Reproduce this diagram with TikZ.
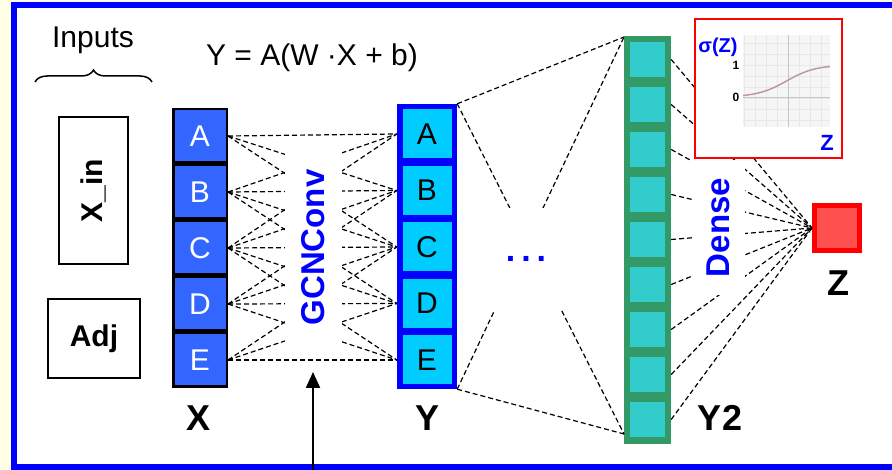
\documentclass[tikz,border=0pt]{standalone}
\usepackage{fontspec}
\setmainfont{Liberation Sans}
\usetikzlibrary{arrows.meta,decorations.pathreplacing}

\definecolor{xblue}{HTML}{3366FF}
\definecolor{ycyan}{HTML}{00CCFF}
\definecolor{pureblue}{HTML}{0000FF}
\definecolor{dgreen}{HTML}{339966}
\definecolor{cellteal}{HTML}{33CCCC}
\definecolor{zred}{HTML}{FF5050}
\definecolor{paper}{HTML}{FFFFE6}
\definecolor{sigcurve}{HTML}{C09A9A}

\newcommand{\fsz}[1]{\fontsize{#1}{#1}\selectfont}

\tikzset{
	link/.style={black, line width=1.2pt, dash pattern=on 5pt off 3pt},
	xcell/.style={draw=black, line width=2.5pt, fill=xblue, text=white, minimum size=53.5pt, inner sep=0pt, font=\fsz{30}},
	ycell/.style={fill=ycyan, minimum size=49pt, inner sep=0pt, font=\fsz{30}},
	ycol/.style={fill=pureblue, minimum width=60pt, minimum height=285pt, inner sep=0pt},
	gcell/.style={fill=cellteal, minimum size=35pt, inner sep=0pt},
	gcol/.style={fill=dgreen, minimum width=47pt, minimum height=408pt, inner sep=0pt},
	blank/.style={fill=white, inner sep=0pt},
	tag/.style={font=\bfseries\fsz{36}},
	inbox/.style={draw=black, line width=2.5pt, inner sep=0pt, font=\bfseries\fsz{30}},
	gridline/.style={gray!18, line width=0.6pt},
}

\begin{document}
\begin{tikzpicture}[x=1pt,y=-1pt]
	\clip (0,0) rectangle (892,470);
	\fill[paper] (0,0) rectangle (892,470);
	\draw[pureblue, line width=5.5pt, fill=white] (14,5) rectangle (900,467);

	% inputs
	\node[font=\fsz{30}] (inputs) at (93,40) {Inputs};
	\coordinate (bl) at (35,82);
	\coordinate (br) at (152,82);
	\draw[decorate, decoration={brace, amplitude=12pt}, line width=1.5pt] (bl) -- (br);
	\node[inbox, rotate=90, minimum width=147pt, minimum height=69pt] (xin) at (93.5,190.5) {X\_in};
	\node[inbox, minimum width=92pt, minimum height=79pt] (adj) at (94,338.5) {Adj};

	\node[font=\fsz{30}] (eq) at (312,58) {Y = A(W ·X + b)};

	% X and Y columns
	\node[ycol] (ycol) at (427,246.5) {};
	\foreach \l [count=\i from 0] in {A,B,C,D,E} {
		\node[xcell] (x\i) at (200,136+56*\i) {\l};
		\node[ycell] (y\i) at (427,134+56.5*\i) {\l};
	}
	\foreach \i in {0,...,4}
		\foreach \j in {0,...,4} {
			\pgfmathtruncatemacro\d{abs(\i-\j)}
			\ifnum\d<3 \draw[link] (x\i.east) -- (ycol.west |- y\j); \fi
		}
	\node[blank, rotate=90, minimum width=195pt, minimum height=57pt, text=pureblue, font=\bfseries\fsz{33}] (gcn) at (313,247.5) {GCNConv};
	\coordinate (feed) at (313,480);
	\coordinate (tip) at (313,372);
	\draw[line width=2pt, -{Triangle[width=14pt,length=16pt]}] (feed) -- (tip);
	\node[tag] (xlab) at (199,418) {X};
	\node[tag] (ylab) at (428,418) {Y};

	% Y2 column
	\node[gcol] (gcol) at (647.5,240) {};
	\foreach \k in {0,...,8}
		\node[gcell] (g\k) at (647.5,59.5+45*\k) {};
	\node[tag] (y2lab) at (720,418) {Y2};
	\coordinate (gtop) at (624,37);
	\coordinate (gbot) at (624,434);
	\draw[link] (ycol.north east) -- (gtop);
	\draw[link] (ycol.north east) -- (gbot);
	\draw[link] (ycol.south east) -- (gtop);
	\draw[link] (ycol.south east) -- (gbot);
	\node[blank, minimum width=72pt, minimum height=102pt, text=pureblue, font=\bfseries\fsz{34}] (dots) at (526,259) {.\kern6pt.\kern6pt.};

	% dense layer and output
	\node[draw=red, line width=5pt, fill=zred, minimum size=45pt, inner sep=0pt] (z) at (837,228) {};
	\foreach \k in {0,...,8}
		\draw[link] (gcol.east |- g\k) -- (z.west);
	\node[blank, rotate=90, minimum width=135pt, minimum height=53pt, text=pureblue, font=\bfseries\fsz{33}] (dense) at (718.5,227.5) {Dense};
	\node[tag] (zlab) at (838,283) {Z};

	% sigmoid inset
	\node[draw=red, line width=2pt, fill=white, minimum width=147pt, minimum height=139pt] (act) at (768.5,88.5) {};
	\fill[gray!7] (743,35) rectangle (830,127);
	\foreach \gx in {744,755,...,830} \draw[gridline] (\gx,35) -- (\gx,127);
	\foreach \gy in {43,54,...,126} \draw[gridline] (743,\gy) -- (830,\gy);
	\draw[gray!45, line width=0.8pt] (788,35) -- (788,127);
	\draw[gray!45, line width=0.8pt] (743,97) -- (830,97);
	\draw[sigcurve, line width=1.5pt, domain=-3:3, samples=50] plot ({786.5+14.5*\x}, {97-32/(1+exp(-\x))});
	\node[text=pureblue, font=\bfseries\fsz{20}] (siglab) at (718,47) {σ(Z)};
	\node[font=\bfseries\fsz{12}] (one) at (736,65) {1};
	\node[font=\bfseries\fsz{12}] (zero) at (736,97) {0};
	\node[text=pureblue, font=\bfseries\fsz{22}] (zaxis) at (827,143) {Z};
\end{tikzpicture}
\end{document}
